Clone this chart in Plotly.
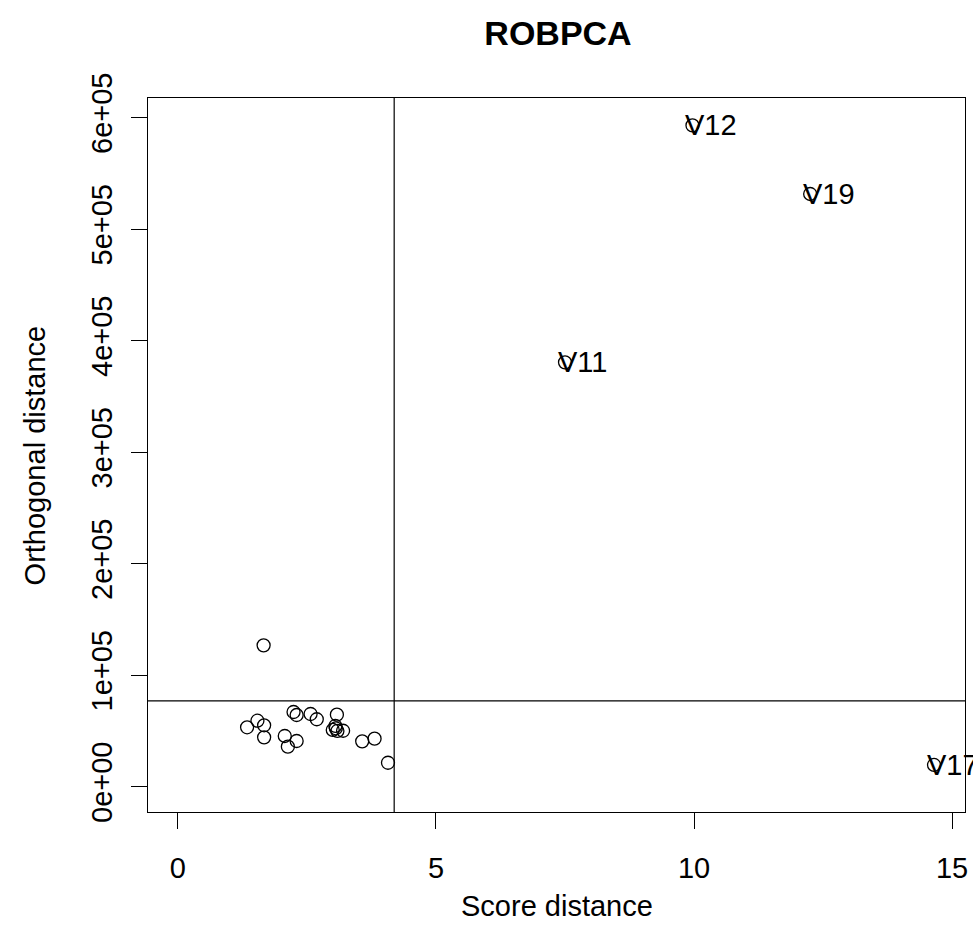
import plotly.graph_objects as go

# ---- data ----
score_dist = [1.66, 1.34, 1.54, 1.67, 1.67, 2.24, 2.30, 2.07, 2.30, 2.13,
              2.57, 2.69, 3.08, 3.00, 3.06, 3.09, 3.20, 3.05, 3.57, 3.81, 4.07]
orth_dist = [126700, 53200, 59100, 55000, 44200, 66900, 64200, 45400, 40900, 35800,
             65100, 60400, 64500, 50800, 52300, 49900, 50100, 54400, 40600, 43000, 21400]

outlier_labels = ["V11", "V12", "V19", "V17"]
outlier_sd = [7.50, 9.97, 12.25, 14.65]
outlier_od = [380500, 593000, 531500, 19400]

sd_cutoff = 4.19
od_cutoff = 76800

x_ticks = [0, 5, 10, 15]
y_ticks = [0, 100000, 200000, 300000, 400000, 500000, 600000]
y_ticklabels = ["0e+00", "1e+05", "2e+05", "3e+05", "4e+05", "5e+05", "6e+05"]

FONT = "Liberation Sans, Arial, sans-serif"
FS = 29

fig = go.Figure()

fig.add_trace(go.Scatter(
    x=score_dist + outlier_sd, y=orth_dist + outlier_od, mode="markers",
    marker=dict(symbol="circle-open", size=13, color="black", line=dict(width=1.3, color="black")),
    showlegend=False, hoverinfo="skip", cliponaxis=True))

for lab, xv, yv in zip(outlier_labels, outlier_sd, outlier_od):
    fig.add_annotation(x=xv, y=yv, xref="x", yref="y", text=lab, showarrow=False,
                       xanchor="left", yanchor="middle", xshift=-9,
                       font=dict(family=FONT, size=FS, color="black"))

fig.add_shape(type="line", xref="x", yref="paper", x0=sd_cutoff, x1=sd_cutoff, y0=0, y1=1,
              line=dict(color="black", width=1.2))
fig.add_shape(type="line", xref="paper", yref="y", x0=0, x1=1, y0=od_cutoff, y1=od_cutoff,
              line=dict(color="black", width=1.2))

axis_common = dict(showgrid=False, zeroline=False, showline=True, linecolor="black", linewidth=1.2,
                   mirror=True, ticks="outside", ticklen=16, tickwidth=1.2, tickcolor="black",
                   tickfont=dict(family=FONT, size=FS, color="black"))

fig.update_xaxes(range=[-0.58, 15.25], tickvals=x_ticks, ticktext=[str(v) for v in x_ticks],
                 ticklabelstandoff=14, **axis_common)
fig.update_yaxes(range=[-22780, 617580], tickvals=y_ticks, ticktext=y_ticklabels,
                 tickangle=-90, ticklabelstandoff=7, **axis_common)

fig.add_annotation(text="Score distance", xref="paper", yref="paper", x=0.5, y=-(906 - 812) / 714,
                   showarrow=False, xanchor="center", yanchor="middle",
                   font=dict(family=FONT, size=FS, color="black"))
fig.add_annotation(text="Orthogonal distance", xref="paper", yref="paper", x=-(148 - 35) / 820, y=0.5,
                   showarrow=False, xanchor="center", yanchor="middle", textangle=-90,
                   font=dict(family=FONT, size=FS, color="black"))

fig.update_layout(
    width=973, height=949,
    margin=dict(l=148, r=5, t=98, b=137),
    paper_bgcolor="white", plot_bgcolor="white",
    title=dict(text="<b>ROBPCA</b>", x=(148 + 968) / 2 / 973, xanchor="center",
               y=1 - 33 / 949, yanchor="middle",
               font=dict(family=FONT, size=34, color="black")),
)

fig.write_html("out.html")
